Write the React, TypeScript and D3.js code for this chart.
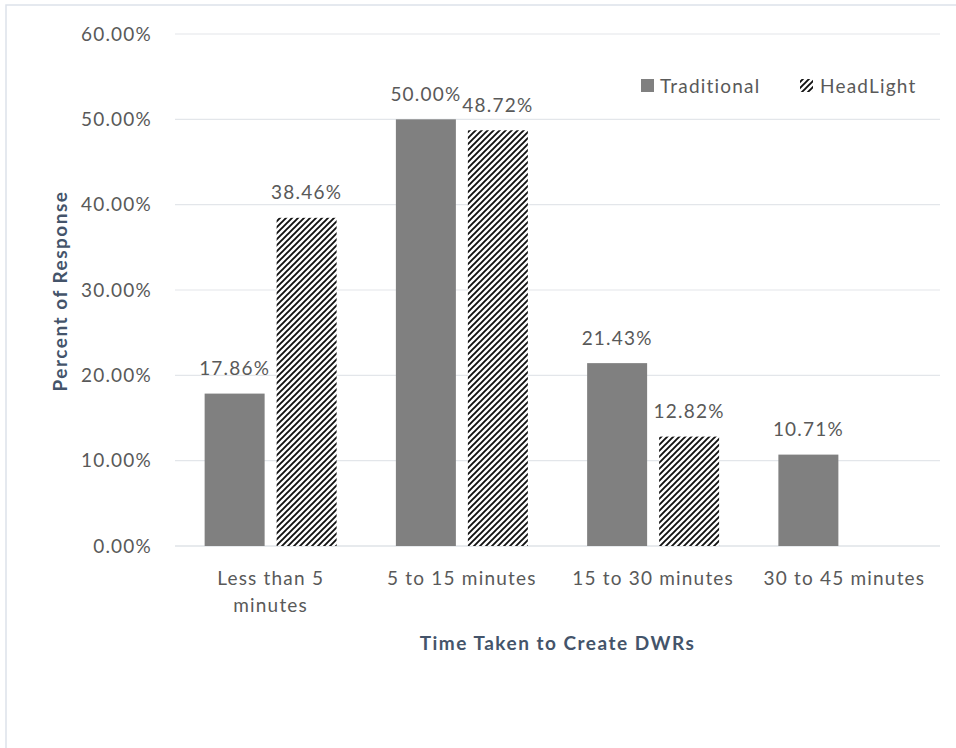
import React from "react";
import * as d3 from "d3";

const categories = ["Less than 5 minutes", "5 to 15 minutes", "15 to 30 minutes", "30 to 45 minutes"];
const categoryLines = [["Less than 5", "minutes"], ["5 to 15 minutes"], ["15 to 30 minutes"], ["30 to 45 minutes"]];
const seriesNames = ["Traditional", "HeadLight"];
const traditional = [17.86, 50.0, 21.43, 10.71];
const headlight = [38.46, 48.72, 12.82, 0];
const yTicks = [0, 10, 20, 30, 40, 50, 60];

const W = 956;
const H = 748;
const FONT = "Lato, 'Open Sans', sans-serif";
const TEXT = "#595959";
const TITLE = "#44546a";
const FS = 19;
const LS = 1.2;

export default function App() {
  const left = 175, right = 940, top = 34, bottom = 546;
  const x0 = d3.scaleBand<string>().domain(categories).range([left, right]).paddingInner(0).paddingOuter(0);
  const x1 = d3.scaleBand<string>().domain(seriesNames).range([0, x0.bandwidth()]).paddingInner(0.1667).paddingOuter(0.4115);
  const y = d3.scaleLinear().domain([0, 60]).range([bottom, top]);
  const series = [traditional, headlight];
  const fmt = (v: number) => v.toFixed(2) + "%";

  return (
    <svg width={W} height={H} style={{ position: "absolute", left: 0, top: 0, background: "#fff" }} fontFamily={FONT}>
      <defs>
        <pattern id="hatch" patternUnits="userSpaceOnUse" width="6" height="6">
          <rect width="6" height="6" fill="#fff" />
          <path d="M0,6 L6,0 M-1.5,1.5 L1.5,-1.5 M4.5,7.5 L7.5,4.5" stroke="#111" strokeWidth="1.9" />
        </pattern>
      </defs>
      <rect x={6} y={5} width={W} height={H} fill="none" stroke="#dde2ea" strokeWidth={1.5} />
      {yTicks.map((t) => (
        <g key={t}>
          <line x1={left} x2={right} y1={y(t)} y2={y(t)} stroke={t === 0 ? "#d0d5dc" : "#e3e6ea"} strokeWidth={1.2} />
          <text x={152} y={y(t)} dy="0.35em" textAnchor="end" fontSize={FS} letterSpacing={LS} fill={TEXT}>{fmt(t)}</text>
        </g>
      ))}
      {categories.map((c, ci) => (
        <g key={c}>
          {seriesNames.map((s, si) => {
            const v = series[si][ci];
            if (!v) return null;
            const bx = (x0(c) as number) + (x1(s) as number);
            return (
              <g key={s}>
                <rect x={bx} y={y(v)} width={x1.bandwidth()} height={bottom - y(v)} fill={si === 0 ? "#808080" : "url(#hatch)"} />
                <text x={bx + x1.bandwidth() / 2} y={y(v) - 25} dy="0.35em" textAnchor="middle" fontSize={FS} letterSpacing={LS} fill={TEXT}>{fmt(v)}</text>
              </g>
            );
          })}
          {categoryLines[ci].map((ln, li) => (
            <text key={li} x={(x0(c) as number) + x0.bandwidth() / 2} y={578 + li * 27} dy="0.35em" textAnchor="middle" fontSize={FS} letterSpacing={LS} fill={TEXT}>{ln}</text>
          ))}
        </g>
      ))}
      <text x={(left + right) / 2} y={643} dy="0.35em" textAnchor="middle" fontSize={19} letterSpacing={1.5} fontWeight="bold" fill={TITLE}>Time Taken to Create DWRs</text>
      <text transform={`translate(60,${291}) rotate(-90)`} dy="0.35em" textAnchor="middle" fontSize={19} letterSpacing={1.5} fontWeight="bold" fill={TITLE}>Percent of Response</text>
      <g>
        <rect x={641} y={79} width={13} height={13} fill="#808080" />
        <text x={660} y={86} dy="0.35em" fontSize={FS} letterSpacing={LS} fill={TEXT}>{seriesNames[0]}</text>
        <rect x={800} y={79} width={13} height={13} fill="url(#hatch)" />
        <text x={820} y={86} dy="0.35em" fontSize={FS} letterSpacing={LS} fill={TEXT}>{seriesNames[1]}</text>
      </g>
    </svg>
  );
}
